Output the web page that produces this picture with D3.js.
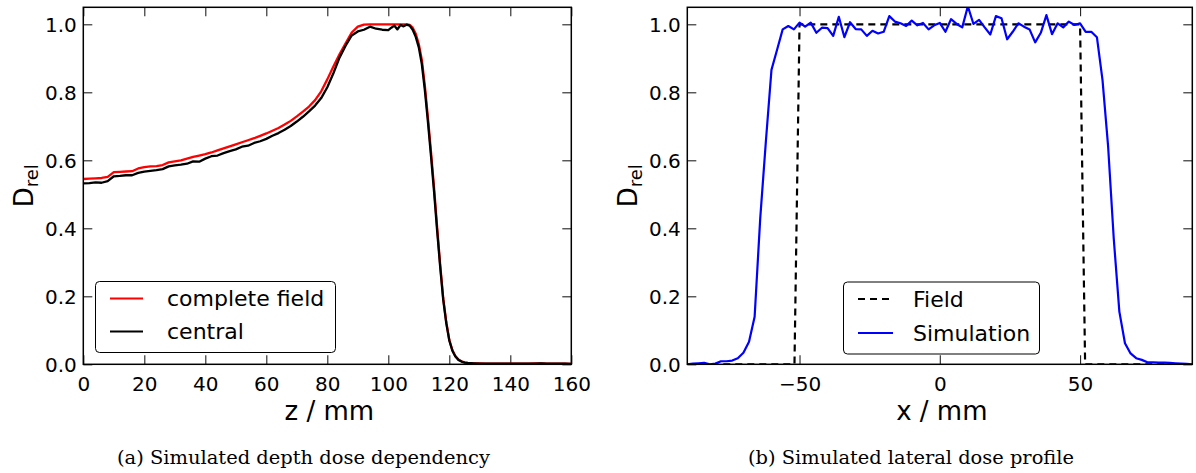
<!DOCTYPE html>
<html>
<head>
<meta charset="utf-8">
<script src="https://cdn.jsdelivr.net/npm/d3@7"></script>
<style>
  html, body { margin: 0; padding: 0; background: #fff; }
  svg { display: block; }
</style>
</head>
<body>
<svg id="chart" width="1196" height="473"></svg>
<script>
// ---------------- DATA ----------------
// (a) depth dose: z in mm
const depthZ = [0,2,4,6,8,10,12,14,16,18,20,22,24,26,28,30,32,34,36,38,40,42,44,46,48,50,52,54,56,58,60,62,64,66,68,70,72,74,76,78,80,82,84,86,88,90,92,94,96,98,100,
  101,102,103,104,105,106,107,108,109,110,111,112,113,114,115,116,117,118,119,120,121,122,123,124,125,126,
  128,130,132,134,136,138,140,142,144,146,148,150,152,154,156,158,160];
const completeField = [0.545,0.546,0.547,0.548,0.551,0.565,0.566,0.567,0.568,0.576,0.580,0.582,0.583,0.586,0.594,0.597,0.600,0.605,0.610,0.614,0.618,0.623,0.629,0.635,0.641,0.647,0.653,0.659,0.665,0.672,0.679,0.687,0.695,0.705,0.716,0.729,0.743,0.758,0.777,0.803,0.838,0.876,0.912,0.944,0.976,0.993,0.999,1.0,1.0,1.0,1.0,
  1.0,1.0,1.0,1.0,1.0,1.0,0.998,0.990,0.972,0.942,0.895,0.818,0.725,0.625,0.520,0.405,0.295,0.195,0.125,0.072,0.042,0.024,0.014,0.009,0.006,0.004,
  0.003,0.003,0.002,0.002,0.002,0.002,0.002,0.002,0.002,0.002,0.003,0.003,0.002,0.002,0.002,0.002,0.001];
const central = [0.532,0.533,0.535,0.534,0.539,0.553,0.554,0.556,0.556,0.563,0.567,0.569,0.571,0.574,0.582,0.585,0.587,0.590,0.597,0.596,0.605,0.612,0.614,0.621,0.627,0.632,0.640,0.643,0.651,0.656,0.663,0.672,0.680,0.690,0.701,0.714,0.728,0.744,0.761,0.783,0.815,0.856,0.902,0.937,0.967,0.979,0.984,0.993,0.987,0.984,0.983,
  0.990,0.996,0.985,0.998,0.994,0.999,0.996,0.984,0.963,0.932,0.882,0.805,0.712,0.612,0.508,0.394,0.287,0.190,0.121,0.070,0.040,0.023,0.013,0.008,0.005,0.004,
  0.003,0.002,0.002,0.002,0.002,0.002,0.002,0.002,0.002,0.002,0.002,0.003,0.002,0.002,0.002,0.002,0.001];

// (b) lateral profile: x in mm
const lateralX = [-90,-88,-86,-84,-82,-80,-78,-76,-74,-72,-70,-68,-66,-64,-62,-60,-58,-56,-54,-52,-50,-48,-46,-44,-42,-40,-38,-36,-34,-32,-30,-28,-26,-24,-22,-20,-18,-16,-14,-12,-10,-8,-6,-4,-2,
  0,2,4,6,8,10,12,14,16,18,20,22,24,26,28,30,32,34,36,38,40,42,44,46,48,50,52,54,56,58,60,62,64,66,68,70,72,74,76,78,80,82,84,86,88,90];
const simulation = [0.000,0.002,0.003,0.004,0.000,0.002,0.009,0.009,0.011,0.018,0.034,0.066,0.140,0.430,0.655,0.866,0.925,0.985,0.995,0.985,1.005,0.993,1.005,0.975,0.990,0.989,0.966,1.022,0.962,1.006,0.986,0.985,0.966,0.981,0.973,0.978,1.024,1.008,1.003,0.995,1.011,0.997,1.004,0.985,0.997,
  1.004,0.978,1.015,1.001,0.991,1.053,1.001,1.013,0.991,0.970,1.024,1.018,0.956,0.978,1.003,0.993,0.985,0.947,0.975,1.027,0.971,1.003,0.991,1.008,0.998,1.003,0.978,0.978,0.962,0.836,0.640,0.370,0.155,0.062,0.032,0.018,0.013,0.006,0.006,0.005,0.005,0.004,0.003,0.002,0.001,0.000];
const fieldX = [-90,-51.8,-50,50,51.8,90];
const fieldY = [0,0,1,1,0,0];

const depthTicks = [0,20,40,60,80,100,120,140,160];
const lateralTicks = [-50,0,50];
const doseTicks = [0,0.2,0.4,0.6,0.8,1.0];

// ---------------- DRAWING ----------------
const svg = d3.select("#chart");
const FONT = "'DejaVu Sans', 'Noto Sans', sans-serif";
const SERIF = "'DejaVu Serif', 'Liberation Serif', serif";
const yTop = 7.3, yBottom = 364.3;

function panel(cfg) {
  const x = d3.scaleLinear().domain(cfg.xDomain).range([cfg.left, cfg.right]);
  const y = d3.scaleLinear().domain([0, 1.05]).range([yBottom, yTop]);
  const g = svg.append("g");
  const clipId = "clip-" + cfg.id;
  svg.append("defs").append("clipPath").attr("id", clipId)
    .append("rect").attr("x", cfg.left).attr("y", yTop)
    .attr("width", cfg.right - cfg.left).attr("height", yBottom - yTop);

  // ticks (inside, all four sides)
  const tl = 9;
  const axB = g.append("g").attr("transform", `translate(0,${yBottom})`)
    .call(d3.axisBottom(x).tickValues(cfg.xTicks).tickSizeInner(-tl).tickSizeOuter(0).tickPadding(13)
      .tickFormat(cfg.xFormat));
  const axT = g.append("g").attr("transform", `translate(0,${yTop})`)
    .call(d3.axisTop(x).tickValues(cfg.xTicks).tickSizeInner(-tl).tickSizeOuter(0).tickFormat(""));
  const axL = g.append("g").attr("transform", `translate(${cfg.left},0)`)
    .call(d3.axisLeft(y).tickValues(doseTicks).tickSizeInner(-tl).tickSizeOuter(0).tickPadding(6.5)
      .tickFormat(d3.format(".1f")));
  const axR = g.append("g").attr("transform", `translate(${cfg.right},0)`)
    .call(d3.axisRight(y).tickValues(doseTicks).tickSizeInner(-tl).tickSizeOuter(0).tickFormat(""));
  [axB, axT, axL, axR].forEach(a => {
    a.select(".domain").remove();
    a.selectAll(".tick line").attr("stroke", "#222").attr("stroke-width", 1.1);
    a.selectAll("text").attr("font-family", FONT).attr("font-size", 20).attr("fill", "#000");
  });
  axB.selectAll(".tick text").attr("dy", null).attr("y", 27);
  axL.selectAll(".tick text").attr("dy", "0.36em");

  // data
  const plot = g.append("g").attr("clip-path", `url(#${clipId})`);
  cfg.series.forEach(s => {
    const line = d3.line().x((d, i) => x(s.xs[i])).y(d => y(d));
    plot.append("path").datum(s.ys).attr("d", line)
      .attr("fill", "none").attr("stroke", s.color).attr("stroke-width", s.width)
      .attr("stroke-dasharray", s.dash || null)
      .attr("stroke-linejoin", "round");
  });

  // frame
  g.append("rect").attr("x", cfg.left).attr("y", yTop)
    .attr("width", cfg.right - cfg.left).attr("height", yBottom - yTop)
    .attr("fill", "none").attr("stroke", "#000").attr("stroke-width", 1.5);

  // axis labels
  g.append("text").attr("x", (cfg.left + cfg.right) / 2 + 2).attr("y", 420)
    .attr("text-anchor", "middle").attr("font-family", FONT).attr("font-size", 26)
    .text(cfg.xLabel);
  const yl = g.append("text")
    .attr("transform", `translate(${cfg.left - 50},${(yTop + yBottom) / 2}) rotate(-90)`)
    .attr("text-anchor", "middle").attr("font-family", FONT).attr("font-size", 26);
  yl.append("tspan").text("D");
  yl.append("tspan").attr("font-size", 18).attr("dy", 5).text("rel");

  // legend
  const L = cfg.legend;
  g.append("rect").attr("x", L.x).attr("y", L.y).attr("width", L.w).attr("height", L.h)
    .attr("rx", 4).attr("fill", "#fff").attr("stroke", "#000").attr("stroke-width", 1);
  L.items.forEach((it, i) => {
    const ly = L.rows[i];
    g.append("line").attr("x1", L.lx1).attr("x2", L.lx2).attr("y1", ly).attr("y2", ly)
      .attr("stroke", it.color).attr("stroke-width", 2.2).attr("stroke-dasharray", it.dash || null);
    g.append("text").attr("x", L.tx).attr("y", ly + 7.5)
      .attr("font-family", FONT).attr("font-size", 22).text(it.label);
  });

  // caption
  g.append("text").attr("x", cfg.caption.x).attr("y", 464)
    .attr("font-family", SERIF).attr("font-size", 18.5)
    .attr("textLength", cfg.caption.w).attr("lengthAdjust", "spacingAndGlyphs")
    .text(cfg.caption.text);
}

panel({
  id: "a", left: 83.3, right: 571.3, xDomain: [0, 160], xTicks: depthTicks,
  xFormat: d3.format("d"), xLabel: "z / mm",
  series: [
    { xs: depthZ, ys: completeField, color: "#ff0000", width: 2.3 },
    { xs: depthZ, ys: central, color: "#000000", width: 2.3 }
  ],
  legend: { x: 95.5, y: 281.5, w: 240, h: 71, lx1: 110, lx2: 143, tx: 167, rows: [298.5, 331.5],
    items: [{ label: "complete field", color: "#ff0000" }, { label: "central", color: "#000000" }] },
  caption: { x: 117, w: 373, text: "(a) Simulated depth dose dependency" }
});

panel({
  id: "b", left: 687.3, right: 1192.3, xDomain: [-90, 90], xTicks: lateralTicks,
  xFormat: d3.format("d"), xLabel: "x / mm",
  series: [
    { xs: fieldX, ys: fieldY, color: "#000000", width: 2.2, dash: "7,5" },
    { xs: lateralX, ys: simulation, color: "#0000ff", width: 2.2 }
  ],
  legend: { x: 843.5, y: 282, w: 196, h: 72, lx1: 858, lx2: 893, tx: 913, rows: [299, 333],
    items: [{ label: "Field", color: "#000000", dash: "7,5" }, { label: "Simulation", color: "#0000ff" }] },
  caption: { x: 748, w: 326, text: "(b) Simulated lateral dose profile" }
});
</script>
</body>
</html>
